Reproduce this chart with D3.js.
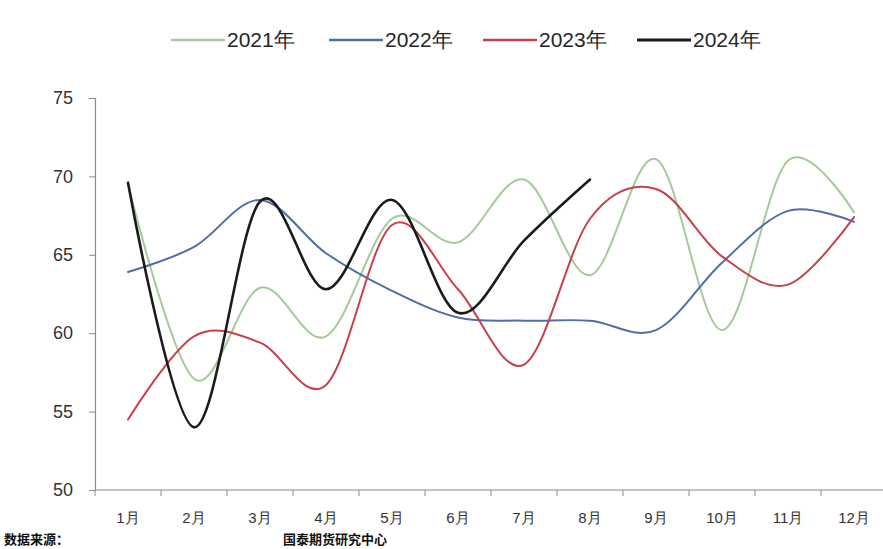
<!DOCTYPE html>
<html>
<head>
<meta charset="utf-8">
<script src="https://cdn.jsdelivr.net/npm/d3@7/dist/d3.min.js"></script>
<style>
  html, body { margin: 0; padding: 0; background: #fff; overflow: hidden; }
  svg { display: block; font-family: "Liberation Sans", Arial, sans-serif; }
</style>
</head>
<body>
<svg id="chart" width="883" height="549"></svg>
<script>
// Monthly series, one array per year
const months = ["1月","2月","3月","4月","5月","6月","7月","8月","9月","10月","11月","12月"];
const yTicks = [50, 55, 60, 65, 70, 75];
const seriesNames = ["2021年", "2022年", "2023年", "2024年"];
const v2021 = [69.5, 57.1, 62.9, 59.8, 67.3, 65.8, 69.8, 63.7, 71.1, 60.2, 71.0, 67.7];
const v2022 = [63.9, 65.5, 68.5, 65.1, 62.7, 61.0, 60.8, 60.8, 60.2, 64.5, 67.8, 67.1];
const v2023 = [54.5, 59.8, 59.4, 56.7, 66.9, 62.8, 58.0, 67.3, 69.2, 64.9, 63.1, 67.4];
const v2024 = [69.6, 54.0, 68.4, 62.8, 68.5, 61.3, 65.9, 69.8];
const colors = ["#a6c99a", "#4d6fa6", "#c8404b", "#1b1b1b"];
const widths = [2, 2, 2, 2.6];

const svg = d3.select("#chart");
const plotL = 95, plotR = 887, plotT = 98, plotB = 490;

const x = d3.scaleBand().domain(months).range([plotL, plotR]).padding(0);
const y = d3.scaleLinear().domain([50, 75]).range([plotB, plotT]);

// Y axis
const yAxis = d3.axisLeft(y).tickValues(yTicks).tickSize(6).tickPadding(16);
const gy = svg.append("g").attr("transform", `translate(${plotL},0)`).call(yAxis);
gy.select(".domain").attr("stroke", "#8a8a8a").attr("stroke-width", 1.2);
gy.selectAll(".tick line").attr("stroke", "#8a8a8a");
gy.selectAll(".tick text").attr("font-size", 18).attr("fill", "#333")
  .attr("font-family", "'Liberation Sans', Arial, sans-serif");

// X axis: ticks on category boundaries, labels centred in each band
const gx = svg.append("g").attr("transform", `translate(0,${plotB})`);
gx.append("line").attr("x1", plotL).attr("x2", 883).attr("y1", 0).attr("y2", 0)
  .attr("stroke", "#8a8a8a").attr("stroke-width", 1.2);
gx.selectAll("line.tk").data(months).join("line").attr("class", "tk")
  .attr("x1", d => x(d)).attr("x2", d => x(d)).attr("y1", 0).attr("y2", 6)
  .attr("stroke", "#8a8a8a");
gx.selectAll("text").data(months).join("text")
  .attr("x", d => x(d) + x.bandwidth() / 2).attr("y", 33)
  .attr("text-anchor", "middle").attr("font-size", 15).attr("fill", "#333")
  .text(d => d);

// Smoothed lines
const line = d3.line()
  .x((d, i) => x(months[i]) + x.bandwidth() / 2)
  .y(d => y(d))
  .curve(d3.curveCatmullRom.alpha(0));

[v2021, v2022, v2023, v2024].forEach((vals, k) => {
  svg.append("path").datum(vals)
    .attr("d", line)
    .attr("fill", "none")
    .attr("stroke", colors[k])
    .attr("stroke-width", widths[k])
    .attr("stroke-linejoin", "round")
    .attr("stroke-linecap", "round");
});

// Legend
const legendX = [171, 329, 483, 637];
const lg = svg.append("g");
seriesNames.forEach((name, k) => {
  lg.append("line").attr("x1", legendX[k]).attr("x2", legendX[k] + 54)
    .attr("y1", 40).attr("y2", 40).attr("stroke", colors[k]).attr("stroke-width", widths[k] + 0.4);
  lg.append("text").attr("x", legendX[k] + 56).attr("y", 47)
    .attr("font-size", 21).attr("fill", "#262626").text(name);
});

// Source note along the bottom edge
svg.append("text").attr("x", 4).attr("y", 544).attr("font-size", 13)
  .attr("font-weight", "bold").attr("fill", "#111")
  .attr("font-family", "'Noto Sans CJK SC', sans-serif").text("数据来源：");
svg.append("text").attr("x", 283).attr("y", 544).attr("font-size", 13)
  .attr("font-weight", "bold").attr("fill", "#111")
  .attr("font-family", "'Noto Sans CJK SC', sans-serif").text("国泰期货研究中心");
</script>
</body>
</html>
